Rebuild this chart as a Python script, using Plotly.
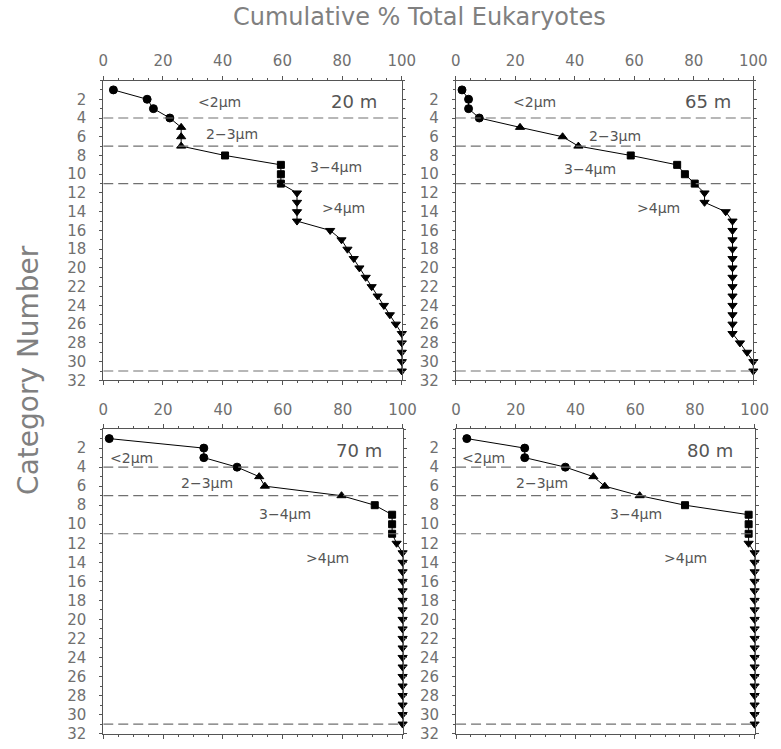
import plotly.graph_objects as go

# ---------------- data ----------------
categories = list(range(1, 32))
size_class_of_category = (["<2"] * 4) + (["2-3"] * 3) + (["3-4"] * 4) + ([">4"] * 20)
class_symbols = {"<2": "circle", "2-3": "triangle-up", "3-4": "square", ">4": "triangle-down"}
class_sizes = {"<2": 8, "2-3": 8, "3-4": 7, ">4": 8}
boundaries = [4, 7, 11, 31]

pct_20m = [3.4, 14.7, 16.8, 22.3, 26.1, 26.1, 26.1, 40.8, 59.5, 59.5, 59.5,
           64.9, 64.9, 64.9, 64.9, 76.0, 79.8, 81.8, 83.9, 85.8, 87.9, 89.9,
           91.9, 94.0, 96.0, 98.0, 100, 100, 100, 100, 100]
pct_65m = [2.1, 4.3, 4.3, 7.9, 21.6, 35.9, 41.2, 58.8, 74.4, 77.0, 80.3,
           83.6, 83.6, 90.7, 93.0, 93.0, 93.0, 93.0, 93.0, 93.0, 93.0, 93.0,
           93.0, 93.0, 93.0, 93.0, 93.0, 95.5, 97.9, 100, 100]
pct_70m = [2.0, 33.6, 33.6, 44.7, 52.1, 54.0, 79.6, 90.7, 96.5, 96.5, 96.5,
           98.0, 100, 100, 100, 100, 100, 100, 100, 100, 100, 100,
           100, 100, 100, 100, 100, 100, 100, 100, 100]
pct_80m = [3.6, 23.0, 23.0, 36.6, 46.0, 49.8, 61.5, 76.7, 98.0, 98.0, 98.0,
           98.0, 100, 100, 100, 100, 100, 100, 100, 100, 100, 100,
           100, 100, 100, 100, 100, 100, 100, 100, 100]

depth_labels = ["20 m", "65 m", "70 m", "80 m"]
class_labels = ["&lt;2μm", "2−3μm", "3−4μm", "&gt;4μm"]
x_ticks = [0, 20, 40, 60, 80, 100]
y_ticks = list(range(2, 33, 2))

# label anchor positions (data coords) per panel: depth, <2, 2-3, 3-4, >4
label_pos = [
    [(84, 2.2), (39, 2.3), (43, 5.7), (78, 9.2), (80.5, 13.6)],
    [(84.6, 2.2), (26.5, 2.3), (53.4, 5.9), (45.2, 9.4), (68.2, 13.6)],
    [(85.3, 2.3), (9.6, 3.0), (34.6, 5.7), (60.8, 8.9), (74.9, 13.5)],
    [(84.9, 2.3), (9.1, 3.0), (28.7, 5.7), (60.4, 8.9), (76.7, 13.6)],
]

series = [pct_20m, pct_65m, pct_70m, pct_80m]

# ---------------- layout geometry (page pixels) ----------------
W, H = 781, 749

panels_px = [  # x0, x1, y0(top), y1(bottom)
    (100.7, 406.7, 81.5, 385.0),
    (462.0, 767.0, 81.5, 385.0),
    (100.7, 407.5, 434.3, 742.5),
    (462.3, 768.3, 434.3, 742.5),
]


def fx(px):
    return px / W


def fy(py):
    return 1 - py / H


TICK_FONT = dict(family="DejaVu Sans", size=15, color="#707070")
LINE_C = "#555555"

fig = go.Figure()
layout = dict(
    width=W, height=H,
    margin=dict(l=0, r=0, t=0, b=0),
    paper_bgcolor="white", plot_bgcolor="white",
    showlegend=False,
)
shapes = []
annotations = []

symbols = [class_symbols[c] for c in size_class_of_category]
sizes = [class_sizes[c] for c in size_class_of_category]

for i, (vals, px) in enumerate(zip(series, panels_px)):
    n = i + 1
    xa = "x" if n == 1 else f"x{n}"
    ya = "y" if n == 1 else f"y{n}"
    fig.add_trace(go.Scatter(
        x=vals, y=categories, mode="lines+markers",
        line=dict(color="black", width=1),
        marker=dict(symbol=symbols, size=sizes, color="black",
                    line=dict(color="black", width=1), opacity=1),
        xaxis=xa, yaxis=ya, hoverinfo="skip", cliponaxis=False,
    ))
    x0, x1, y0, y1 = px
    layout[f"xaxis{n if n > 1 else ''}"] = dict(
        domain=[max(0, fx(x0)), min(1, fx(x1))], anchor=ya, range=[0, 100], side="top",
        tickvals=x_ticks, ticks="outside", ticklen=4, tickcolor=LINE_C,
        tickfont=TICK_FONT, ticklabelstandoff=4 if n <= 2 else 3,
        minor=dict(dtick=5, tick0=0, ticks="outside", ticklen=2, tickcolor=LINE_C),
        showline=True, linecolor=LINE_C, linewidth=1, mirror="ticks",
        showgrid=False, zeroline=False,
    )
    layout[f"yaxis{n if n > 1 else ''}"] = dict(
        domain=[max(0, fy(y1)), min(1, fy(y0))], anchor=xa, range=[32, 0],
        tickvals=y_ticks, ticks="outside", ticklen=3, tickcolor=LINE_C,
        tickfont=TICK_FONT, ticklabelstandoff=10,
        minor=dict(dtick=1, tick0=0, ticks="outside", ticklen=2, tickcolor=LINE_C),
        showline=True, linecolor=LINE_C, linewidth=1, mirror="ticks",
        showgrid=False, zeroline=False,
    )
    for b in boundaries:
        shapes.append(dict(
            type="line", xref=xa, yref=ya, x0=0, x1=100, y0=b, y1=b,
            line=dict(color="#707070", width=1.2, dash="10px,5px"),
        ))
    texts = [depth_labels[i]] + class_labels
    for j, (t, (lx, ly)) in enumerate(zip(texts, label_pos[i])):
        annotations.append(dict(
            text=t, x=lx, y=ly, xref=xa, yref=ya, showarrow=False,
            xanchor="center", yanchor="middle",
            font=dict(family="DejaVu Sans", size=18 if j == 0 else 14, color="#555555"),
        ))

annotations.append(dict(
    text="Cumulative % Total Eukaryotes", xref="paper", yref="paper",
    x=fx(425), y=fy(17.5), xanchor="center", yanchor="middle", showarrow=False,
    font=dict(family="DejaVu Sans", size=24, color="#808080"),
))
annotations.append(dict(
    text="Category Number", xref="paper", yref="paper",
    x=fx(24), y=fy(374), xanchor="center", yanchor="middle",
    showarrow=False, textangle=-90,
    font=dict(family="DejaVu Sans", size=28, color="#808080"),
))

layout["shapes"] = shapes
layout["annotations"] = annotations
fig.update_layout(**layout)
fig.write_html(
    "out.html",
    config={"displayModeBar": False, "staticPlot": True},
    post_script="document.body.style.margin='0';document.body.style.overflow='hidden';",
)
